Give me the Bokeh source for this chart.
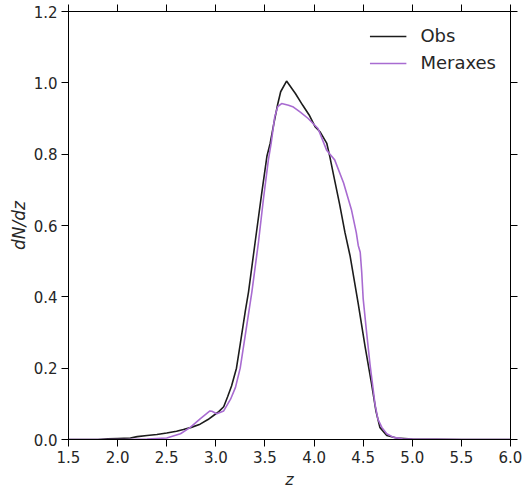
from bokeh.plotting import figure
from bokeh.models import (LinearAxis, FixedTicker, PrintfTickFormatter, Legend, LegendItem,
                          CustomLabelingPolicy)
from bokeh.embed import file_html
from bokeh.resources import INLINE

# Observed dN/dz
obs_z = [1.5, 1.8, 1.9, 2.0, 2.13, 2.2, 2.3, 2.4, 2.5, 2.6, 2.67, 2.75, 2.84, 2.92,
         2.98, 3.03, 3.08, 3.12, 3.16, 3.21, 3.25, 3.3, 3.333, 3.4, 3.468, 3.52, 3.553,
         3.59, 3.63, 3.66, 3.72, 3.81, 3.885, 3.95, 4.01, 4.06, 4.13, 4.16, 4.2,
         4.26, 4.315, 4.366, 4.45, 4.52, 4.586, 4.63, 4.67, 4.74, 4.84, 5.0, 5.5, 6.0]
obs_v = [0.0, 0.0, 0.002, 0.003, 0.004, 0.008, 0.011, 0.014, 0.018, 0.023, 0.028, 0.034,
         0.043, 0.056, 0.068, 0.078, 0.092, 0.12, 0.15, 0.20, 0.27, 0.36, 0.414, 0.553,
         0.692, 0.794, 0.83, 0.885, 0.94, 0.975, 1.005, 0.97, 0.937, 0.91, 0.877, 0.863,
         0.83, 0.794, 0.74, 0.66, 0.58, 0.516, 0.38, 0.26, 0.155, 0.08, 0.034, 0.011,
         0.004, 0.001, 0.0, 0.0]

# Meraxes model dN/dz
mer_z = [1.5, 2.1, 2.3, 2.5, 2.64, 2.74, 2.84, 2.94, 2.96, 3.01, 3.08, 3.15, 3.2, 3.248,
         3.29, 3.367, 3.434, 3.485, 3.535, 3.563, 3.6, 3.63, 3.67, 3.74, 3.79, 3.86, 3.94,
         4.04, 4.13, 4.21, 4.3, 4.38, 4.43, 4.45, 4.47, 4.485, 4.5, 4.535, 4.57, 4.6,
         4.62, 4.65, 4.69, 4.74, 4.81, 4.9, 5.0, 5.5, 6.0]
mer_v = [0.0, 0.0, 0.001, 0.004, 0.016, 0.034, 0.058, 0.08, 0.079, 0.072, 0.08, 0.113,
         0.146, 0.20, 0.275, 0.414, 0.553, 0.675, 0.784, 0.83, 0.905, 0.933, 0.942, 0.937,
         0.932, 0.918, 0.9, 0.872, 0.81, 0.784, 0.72, 0.645, 0.58, 0.544, 0.525, 0.47,
         0.395, 0.3, 0.21, 0.145, 0.1, 0.057, 0.034, 0.016, 0.006, 0.002, 0.001, 0.0, 0.0]

x_ticks = [1.5, 2.0, 2.5, 3.0, 3.5, 4.0, 4.5, 5.0, 5.5, 6.0]
y_ticks = [0.0, 0.2, 0.4, 0.6, 0.8, 1.0, 1.2]

FONT = "DejaVu Sans"
TXT = "#262626"

p = figure(width=522, height=491, x_range=(1.5, 6.0), y_range=(0.0, 1.2),
           output_backend="svg", toolbar_location=None,
           min_border_left=68, min_border_right=11, min_border_top=0, min_border_bottom=52,
           x_axis_label="z", y_axis_label="dN/dz")
p.xgrid.visible = False
p.ygrid.visible = False
p.outline_line_color = "black"
p.outline_line_width = 1
p.background_fill_color = "white"
p.border_fill_color = "white"

no_labels = CustomLabelingPolicy(code="""
    for (const i of indices)
        indices.unset(i)
    return indices
""")

def style(ax, labels=True):
    ax.major_tick_in = 0
    ax.major_tick_out = 7
    ax.minor_tick_in = 0
    ax.minor_tick_out = 0
    ax.major_tick_line_color = "black"
    ax.axis_line_color = "black"
    ax.major_label_text_font = FONT
    ax.major_label_text_color = TXT
    ax.formatter = PrintfTickFormatter(format="%.1f")
    if labels:
        ax.major_label_text_font_size = "15px"
        ax.major_label_standoff = 4
    else:
        ax.major_label_text_font_size = "1px"
        ax.major_label_standoff = 0
        ax.major_label_policy = no_labels

xa = p.xaxis[0]
ya = p.yaxis[0]
xa.ticker = FixedTicker(ticks=x_ticks)
ya.ticker = FixedTicker(ticks=y_ticks)
style(xa)
style(ya)
for ax in (xa, ya):
    ax.axis_label_text_font = FONT
    ax.axis_label_text_font_style = "italic"
    ax.axis_label_text_color = TXT
xa.axis_label_standoff = 4
ya.axis_label_standoff = 2
xa.axis_label_text_font_size = "16px"
ya.axis_label_text_font_size = "17px"

top = LinearAxis(ticker=FixedTicker(ticks=x_ticks))
style(top, labels=False)
p.add_layout(top, "above")
right = LinearAxis(ticker=FixedTicker(ticks=y_ticks))
style(right, labels=False)
p.add_layout(right, "right")

r1 = p.line(obs_z, obs_v, line_color="#1c1c1c", line_width=1.6)
r2 = p.line(mer_z, mer_v, line_color="#a86bd1", line_width=1.6)

legend = Legend(items=[LegendItem(label="Obs", renderers=[r1]),
                       LegendItem(label="Meraxes", renderers=[r2])],
                location="top_right")
legend.border_line_alpha = 0
legend.background_fill_alpha = 0
legend.label_text_font = FONT
legend.label_text_font_size = "18px"
legend.label_text_color = TXT
legend.glyph_width = 37
legend.label_standoff = 14
legend.spacing = 6
legend.margin = 6
legend.padding = 8
p.add_layout(legend)

open("out.html", "w").write(file_html(p, INLINE))
